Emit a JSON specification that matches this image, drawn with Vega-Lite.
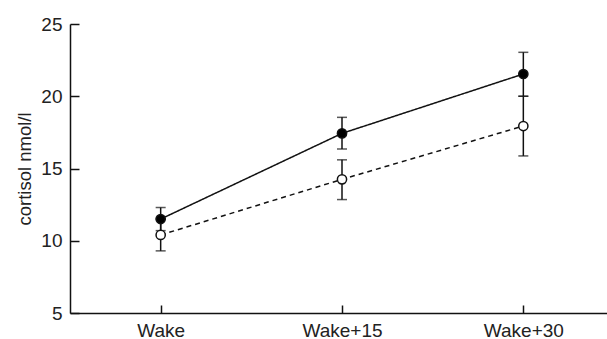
{
  "$schema": "https://vega.github.io/schema/vega-lite/v6.json",
  "width": 544,
  "height": 289,
  "autosize": {"type": "none"},
  "padding": {"left": 70, "top": 24, "right": 0, "bottom": 26},
  "background": "white",
  "config": {
    "view": {"stroke": null},
    "font": "Liberation Sans",
    "axis": {
      "domainColor": "#111",
      "domainWidth": 1.5,
      "tickColor": "#111",
      "tickWidth": 1.5,
      "grid": false,
      "labelFont": "Liberation Sans",
      "labelFontSize": 19,
      "labelColor": "#222",
      "titleFont": "Liberation Sans",
      "titleFontWeight": "normal",
      "titleColor": "#222"
    }
  },
  "data": {
    "values": [
      {"time": "Wake", "group": "A", "mean": 11.5, "lo": 10.7, "hi": 12.3},
      {"time": "Wake+15", "group": "A", "mean": 17.43, "lo": 16.35, "hi": 18.54},
      {"time": "Wake+30", "group": "A", "mean": 21.54, "lo": 20.0, "hi": 23.04},
      {"time": "Wake", "group": "B", "mean": 10.4, "lo": 9.3, "hi": 11.5},
      {"time": "Wake+15", "group": "B", "mean": 14.25, "lo": 12.85, "hi": 15.6},
      {"time": "Wake+30", "group": "B", "mean": 17.94, "lo": 15.87, "hi": 20.0}
    ]
  },
  "encoding": {
    "x": {
      "field": "time",
      "type": "ordinal",
      "scale": {"type": "point", "padding": 0.5},
      "axis": {"title": null, "labelAngle": 0, "tickSize": -8, "labelPadding": 16, "labelFontSize": 19, "domain": true}
    }
  },
  "layer": [
    {
      "mark": {"type": "line", "color": "#111", "strokeWidth": 1.5},
      "encoding": {
        "y": {
          "field": "mean",
          "type": "quantitative",
          "scale": {"domain": [5, 25], "nice": false, "zero": false},
          "axis": {"title": "cortisol nmol/l", "titleFontSize": 18.5, "labelFontSize": 19, "values": [5, 10, 15, 20, 25], "tickSize": -9, "labelPadding": 17, "titlePadding": 6}
        },
        "strokeDash": {
          "field": "group",
          "type": "nominal",
          "scale": {"domain": ["A", "B"], "range": [[1, 0], [5, 4]]},
          "legend": null
        }
      }
    },
    {
      "mark": {"type": "rule", "color": "#111", "strokeWidth": 1.5},
      "encoding": {
        "y": {"field": "lo", "type": "quantitative"},
        "y2": {"field": "hi"}
      }
    },
    {
      "mark": {"type": "tick", "color": "#111", "thickness": 1.5, "size": 10},
      "encoding": {"y": {"field": "lo", "type": "quantitative"}}
    },
    {
      "mark": {"type": "tick", "color": "#111", "thickness": 1.5, "size": 10},
      "encoding": {"y": {"field": "hi", "type": "quantitative"}}
    },
    {
      "mark": {"type": "point", "shape": "circle", "size": 85, "opacity": 1, "strokeWidth": 1.5, "stroke": "#111"},
      "encoding": {
        "y": {"field": "mean", "type": "quantitative"},
        "fill": {
          "field": "group",
          "type": "nominal",
          "scale": {"domain": ["A", "B"], "range": ["#000000", "#ffffff"]},
          "legend": null
        }
      }
    }
  ]
}
